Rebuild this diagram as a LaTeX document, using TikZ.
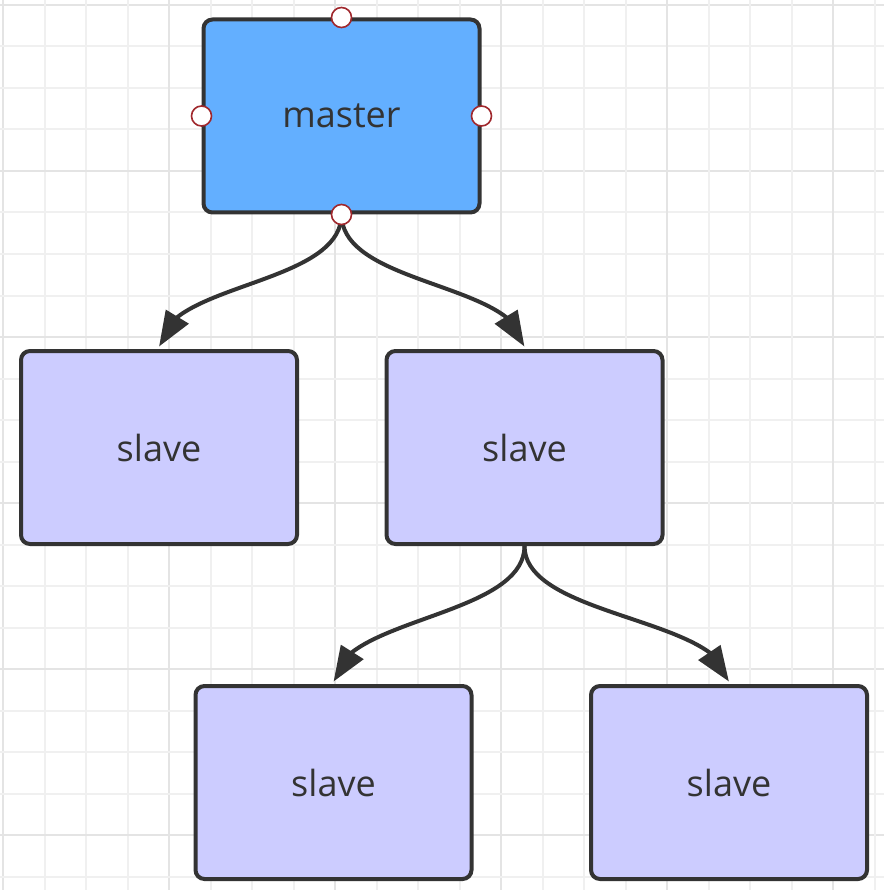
\documentclass[tikz,border=0pt]{standalone}
\usepackage{fontspec}
\setmainfont{Open Sans}
\usetikzlibrary{arrows.meta,bending}
\definecolor{masterfill}{HTML}{63AFFF}
\definecolor{slavefill}{HTML}{CCCCFF}
\definecolor{edgecol}{HTML}{333333}
\definecolor{gridlight}{HTML}{F0F0F0}
\definecolor{griddark}{HTML}{E4E4E4}
\definecolor{handlecol}{HTML}{A0282D}
\pgfdeclarelayer{gridlayer}
\pgfdeclarelayer{linklayer}
\pgfsetlayers{gridlayer,linklayer,main}
\tikzset{
  box/.style={draw=edgecol, line width=4pt, rounded corners=9pt,
    minimum width=276pt, minimum height=193pt, inner sep=0pt,
    text=edgecol, font=\fontsize{36}{42}\selectfont},
  masterbox/.style={box, fill=masterfill},
  slavebox/.style={box, fill=slavefill},
  link/.style={draw=edgecol, line width=4pt,
    -{Triangle[length=35pt,width=26pt,flex=1]}, shorten >=2.5pt},
  handle/.style={circle, draw=handlecol, fill=white, line width=1.6pt,
    minimum size=20pt, inner sep=0pt},
  gridthin/.style={draw=gridlight, line width=2pt},
  gridthick/.style={draw=griddark, line width=2.6pt}
}
\begin{document}
\begin{tikzpicture}[x=1pt,y=-1pt]
\useasboundingbox (0,0) rectangle (884,890);
\begin{pgfonlayer}{gridlayer}
\fill[white] (0,0) rectangle (884,890);
\foreach \k in {0,...,21}{
  \pgfmathsetmacro{\gx}{3+41.5*\k}
  \pgfmathtruncatemacro{\md}{mod(\k,4)}
  \ifnum\md=0
    \draw[gridthick] (\gx,0) -- (\gx,890);
    \draw[gridthick] (0,\gx+2) -- (884,\gx+2);
  \else
    \draw[gridthin] (\gx,0) -- (\gx,890);
    \draw[gridthin] (0,\gx+2) -- (884,\gx+2);
  \fi
}
\end{pgfonlayer}
% nodes
\node[masterbox] (m) at (341.5,116) {master};
\node[slavebox] (s1) at (159,447.5) {slave};
\node[slavebox] (s2) at (524.5,447.5) {slave};
\node[slavebox] (s3) at (333.5,782.5) {slave};
\node[slavebox] (s4) at (729,782.5) {slave};
% connectors
\begin{pgfonlayer}{linklayer}
\draw[link] (m.south) .. controls +(0,72) and +(0,-66) .. (s1.north);
\draw[link] (m.south) .. controls +(0,72) and +(0,-66) .. (s2.north);
\draw[link] (s2.south) .. controls +(0,72) and +(0,-66) .. (s3.north);
\draw[link] (s2.south) .. controls +(0,72) and +(0,-66) .. (s4.north);
\end{pgfonlayer}
% handles
\node[handle] (hn) at (m.north) {};
\node[handle] (hs) at (m.south) {};
\node[handle] (hw) at (m.west) {};
\node[handle] (he) at (m.east) {};
\end{tikzpicture}
\end{document}
